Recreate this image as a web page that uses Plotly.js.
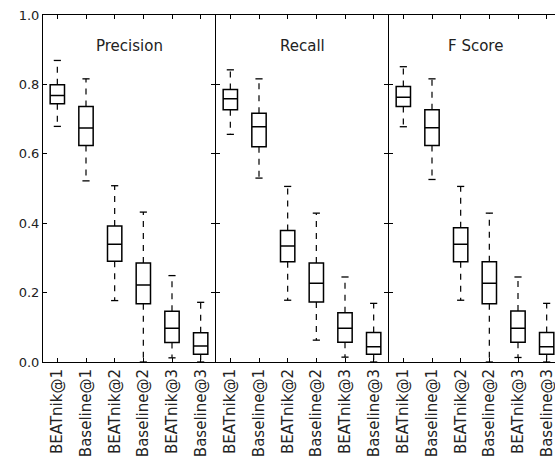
<!DOCTYPE html>
<html>
<head>
<meta charset="utf-8">
<script src="https://cdn.plot.ly/plotly-3.0.1.min.js"></script>
<style>html,body{margin:0;padding:0;background:#fff;}#chart{width:555px;height:459px;}</style>
</head>
<body>
<div id="chart"></div>
<script>
const categories = ["BEATnik@1", "Baseline@1", "BEATnik@2", "Baseline@2", "BEATnik@3", "Baseline@3"];
const panelTitles = ["Precision", "Recall", "F Score"];
const yTicks = [0.0, 0.2, 0.4, 0.6, 0.8, 1.0];

// Precision
const precisionLow    = [0.679, 0.522, 0.177, 0.000, 0.012, 0.000];
const precisionQ1     = [0.744, 0.624, 0.290, 0.168, 0.056, 0.022];
const precisionMedian = [0.768, 0.674, 0.339, 0.222, 0.097, 0.046];
const precisionQ3     = [0.799, 0.736, 0.392, 0.285, 0.146, 0.084];
const precisionHigh   = [0.869, 0.816, 0.508, 0.432, 0.249, 0.172];

// Recall
const recallLow    = [0.656, 0.530, 0.178, 0.063, 0.014, 0.000];
const recallQ1     = [0.727, 0.620, 0.289, 0.173, 0.057, 0.022];
const recallMedian = [0.759, 0.678, 0.334, 0.227, 0.097, 0.044];
const recallQ3     = [0.785, 0.717, 0.379, 0.285, 0.142, 0.085];
const recallHigh   = [0.842, 0.816, 0.506, 0.429, 0.245, 0.169];

// F Score
const fscoreLow    = [0.678, 0.526, 0.178, 0.000, 0.013, 0.000];
const fscoreQ1     = [0.736, 0.624, 0.289, 0.168, 0.057, 0.022];
const fscoreMedian = [0.763, 0.675, 0.339, 0.227, 0.097, 0.044];
const fscoreQ3     = [0.794, 0.727, 0.387, 0.289, 0.147, 0.085];
const fscoreHigh   = [0.851, 0.816, 0.506, 0.429, 0.245, 0.169];

const panels = [
  {low: precisionLow, q1: precisionQ1, med: precisionMedian, q3: precisionQ3, high: precisionHigh},
  {low: recallLow, q1: recallQ1, med: recallMedian, q3: recallQ3, high: recallHigh},
  {low: fscoreLow, q1: fscoreQ1, med: fscoreMedian, q3: fscoreQ3, high: fscoreHigh}
];

const boxWidth = 0.5;
const capHalf = 0.125;
const pos = categories.map((c, i) => i + 1);

const traces = [];
panels.forEach((p, k) => {
  const xa = k === 0 ? 'x' : 'x' + (k + 1);
  const ya = k === 0 ? 'y' : 'y' + (k + 1);
  const wx = [], wy = [];
  const cx = [], cy = [];
  pos.forEach((x, i) => {
    wx.push(x, x, null, x, x, null);
    wy.push(p.q3[i], p.high[i], null, p.q1[i], p.low[i], null);
    cx.push(x - capHalf, x + capHalf, null, x - capHalf, x + capHalf, null);
    cy.push(p.high[i], p.high[i], null, p.low[i], p.low[i], null);
  });
  traces.push({type: 'scatter', mode: 'lines', x: wx, y: wy, xaxis: xa, yaxis: ya,
    line: {color: '#000', width: 1.2, dash: '6px,6px'}, hoverinfo: 'skip', showlegend: false});
  traces.push({type: 'scatter', mode: 'lines', x: cx, y: cy, xaxis: xa, yaxis: ya,
    line: {color: '#000', width: 1.3}, hoverinfo: 'skip', showlegend: false});
  traces.push({type: 'box', x: pos, q1: p.q1, median: p.med, q3: p.q3,
    lowerfence: p.q1, upperfence: p.q3, width: boxWidth, whiskerwidth: 0,
    boxpoints: false, fillcolor: 'rgba(0,0,0,0)', line: {color: '#000', width: 1.5},
    xaxis: xa, yaxis: ya, showlegend: false});
});

const font = {family: 'DejaVu Sans, sans-serif', color: '#222'};
const LW = 1;
const xBase = {
  tickvals: pos, ticktext: categories, tickangle: -90,
  ticks: 'inside', ticklen: 4, tickcolor: '#000', tickwidth: 1,
  showline: true, linecolor: '#000', linewidth: LW, mirror: 'allticks',
  showgrid: false, zeroline: false, tickfont: Object.assign({size: 15}, font),
  ticklabeloverflow: 'allow', fixedrange: true
};
const yBase = {
  range: [0, 1], tickvals: yTicks, tickformat: '.1f',
  ticks: 'inside', ticklen: 4, tickcolor: '#000', tickwidth: 1,
  showline: true, linecolor: '#000', linewidth: LW,
  showgrid: false, zeroline: false, tickfont: Object.assign({size: 13}, font),
  fixedrange: true
};
const PW = 512;            // plot width in px
const p1 = [0, 172], p2 = [173, 345], p3 = [346, 512];
const unitPx = 172 / 6;
const layout = {
  width: 555, height: 459,
  margin: {l: 43, r: 0, t: 15, b: 97},
  paper_bgcolor: '#fff', plot_bgcolor: '#fff',
  showlegend: false, boxmode: 'overlay',
  xaxis:  Object.assign({}, xBase, {domain: [p1[0] / PW, p1[1] / PW], range: [0.5, 6.5], anchor: 'y'}),
  xaxis2: Object.assign({}, xBase, {domain: [p2[0] / PW, p2[1] / PW], range: [0.5, 6.5], anchor: 'y2'}),
  xaxis3: Object.assign({}, xBase, {domain: [p3[0] / PW, p3[1] / PW], range: [0.5, 0.5 + (p3[1] - p3[0]) / unitPx], anchor: 'y3'}),
  yaxis:  Object.assign({}, yBase, {anchor: 'x', mirror: 'allticks'}),
  yaxis2: Object.assign({}, yBase, {anchor: 'x2', mirror: 'allticks', showticklabels: false}),
  yaxis3: Object.assign({}, yBase, {anchor: 'x3', mirror: false, showticklabels: false}),
  annotations: panelTitles.map((t, k) => ({
    text: t, x: 3.5, y: 0.91, xref: k === 0 ? 'x' : 'x' + (k + 1), yref: 'y',
    showarrow: false, font: Object.assign({size: 15}, font), xanchor: 'center', yanchor: 'middle'
  }))
};
Plotly.newPlot('chart', traces, layout, {displayModeBar: false, staticPlot: true});
</script>
</body>
</html>
